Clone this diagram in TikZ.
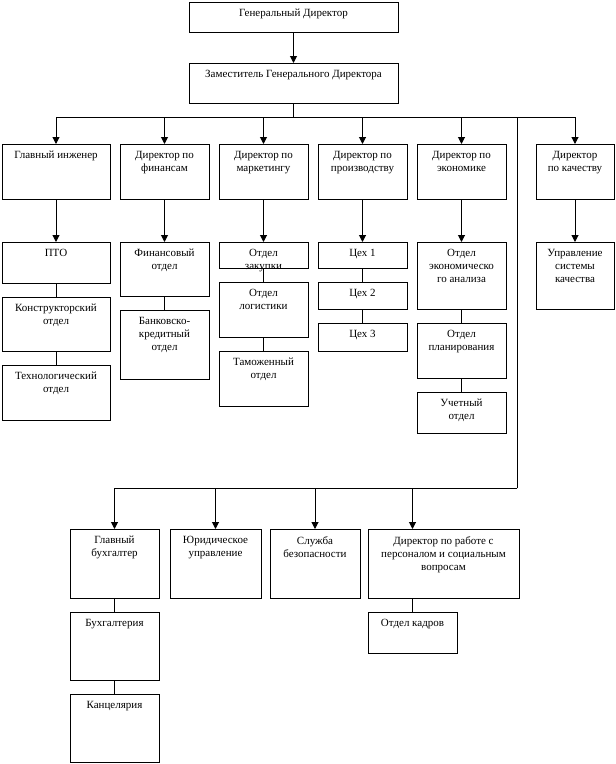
\documentclass[tikz,border=0pt]{standalone}
\usepackage{fontspec}
\setmainfont{Liberation Serif}
\usetikzlibrary{positioning, arrows.meta}

\begin{document}
\begin{tikzpicture}[
    x=1pt, y=-1pt,
    node distance=14pt,
    unit/.style 2 args={
        rectangle,
        draw,
        line width=1pt,
        inner sep=0pt,
        outer sep=0pt,
        minimum width=#1,
        minimum height=#2
    },
    txt/.style={
        anchor=north,
        align=center,
        inner sep=0pt,
        yshift=-7pt,
        font=\fontsize{11}{13}\selectfont
    },
    link/.style={
        line width=1pt
    },
    arrow/.style={
        -{Triangle[length=7pt, width=7pt]},
        line width=1pt
    }
]
\useasboundingbox (0,0) rectangle (616,764);

% ------------------------------------------------------------------
% TOP MANAGEMENT
% ------------------------------------------------------------------

\node[unit={209pt}{30pt}, anchor=north west,
      label={[txt]north:Генеральный Директор}] (gen) at (189,2) {};

\node[unit={209pt}{40pt}, below=31pt of gen,
      label={[txt]north:Заместитель Генерального Директора}] (dep) {};

% ------------------------------------------------------------------
% DIRECTORS
% ------------------------------------------------------------------

\node[unit={108pt}{55pt}, anchor=north west,
      label={[txt]north:Главный инженер}] (gi) at (2,144) {};

\node[unit={89pt}{55pt}, right=10pt of gi,
      label={[txt]north:Директор по\\финансам}] (fin) {};

\node[unit={89pt}{55pt}, right=10pt of fin,
      label={[txt]north:Директор по\\маркетингу}] (mkt) {};

\node[unit={89pt}{55pt}, right=10pt of mkt,
      label={[txt]north:Директор по\\производству}] (prod) {};

\node[unit={89pt}{55pt}, right=10pt of prod,
      label={[txt]north:Директор по\\экономике}] (econ) {};

\node[unit={78pt}{55pt}, right=30pt of econ,
      label={[txt]north:Директор\\по качеству}] (qual) {};

% ------------------------------------------------------------------
% DEPARTMENTS
% ------------------------------------------------------------------

\node[unit={108pt}{41pt}, below=43pt of gi,
      label={[txt]north:ПТО}] (pto) {};
\node[unit={108pt}{54pt}, below=of pto,
      label={[txt]north:Конструкторский\\отдел}] (konstr) {};
\node[unit={108pt}{55pt}, below=of konstr,
      label={[txt]north:Технологический\\отдел}] (tech) {};

\node[unit={89pt}{54pt}, below=43pt of fin,
      label={[txt]north:Финансовый\\отдел}] (finotd) {};
\node[unit={89pt}{69pt}, below=of finotd,
      label={[txt]north:Банковско-\\кредитный\\отдел}] (bank) {};

\node[unit={89pt}{26pt}, below=43pt of mkt,
      label={[txt]north:Отдел\\закупки}] (zak) {};
\node[unit={89pt}{55pt}, below=of zak,
      label={[txt]north:Отдел\\логистики}] (log) {};
\node[unit={89pt}{55pt}, below=of log,
      label={[txt]north:Таможенный\\отдел}] (tam) {};

\node[unit={89pt}{26pt}, below=43pt of prod,
      label={[txt]north:Цех 1}] (ceh1) {};
\node[unit={89pt}{27pt}, below=of ceh1,
      label={[txt]north:Цех 2}] (ceh2) {};
\node[unit={89pt}{28pt}, below=of ceh2,
      label={[txt]north:Цех 3}] (ceh3) {};

\node[unit={89pt}{67pt}, below=43pt of econ,
      label={[txt]north:Отдел\\экономическо\\го анализа}] (anal) {};
\node[unit={89pt}{55pt}, below=of anal,
      label={[txt]north:Отдел\\планирования}] (plan) {};
\node[unit={89pt}{41pt}, below=of plan,
      label={[txt]north:Учетный\\отдел}] (uch) {};

\node[unit={78pt}{67pt}, below=43pt of qual,
      label={[txt]north:Управление\\системы\\качества}] (upr) {};

% ------------------------------------------------------------------
% LOWER BRANCH
% ------------------------------------------------------------------

\node[unit={89pt}{69pt}, anchor=north west,
      label={[txt]north:Главный\\бухгалтер}] (gb) at (70,529) {};
\node[unit={91pt}{69pt}, right=11pt of gb,
      label={[txt]north:Юридическое\\управление}] (jur) {};
\node[unit={90pt}{69pt}, right=9pt of jur,
      label={[txt]north:Служба\\безопасности}] (sec) {};
\node[unit={151pt}{69pt}, right=8pt of sec,
      label={[txt]north:Директор по работе с\\персоналом и социальным\\вопросам}] (dpr) {};

\node[unit={89pt}{68pt}, below=of gb,
      label={[txt]north:Бухгалтерия}] (buh) {};
\node[unit={89pt}{68pt}, below=of buh,
      label={[txt]north:Канцелярия}] (kanc) {};

\node[unit={89pt}{41pt}, below right=14pt and 0pt of dpr.south west,
      label={[txt]north:Отдел кадров}] (ok) {};

% ------------------------------------------------------------------
% CONNECTIONS
% ------------------------------------------------------------------

\draw[arrow] (gen) -- (dep);

\coordinate[below=14pt of dep] (bus);
\draw[link] (dep) -- (bus);
\foreach \h in {gi, fin, mkt, prod, econ, qual}
    \draw[arrow] (bus) -| (\h);

\draw[arrow] (gi) -- (pto);
\draw[link] (pto) -- (konstr) -- (tech);

\draw[arrow] (fin) -- (finotd);
\draw[link] (finotd) -- (bank);

\draw[arrow] (mkt) -- (zak);
\draw[link] (zak) -- (log) -- (tam);

\draw[arrow] (prod) -- (ceh1);
\draw[link] (ceh1) -- (ceh2) -- (ceh3);

\draw[arrow] (econ) -- (anal);
\draw[link] (anal) -- (plan) -- (uch);

\draw[arrow] (qual) -- (upr);

\coordinate (turn) at (517,488);
\draw[link] (bus -| turn) -- (turn);
\foreach \b in {gb, jur, sec}
    \draw[arrow] (turn) -| (\b);
\draw[arrow] (turn) -| (ok |- dpr.north);
\draw[link] (dpr.south -| ok) -- (ok);

\draw[link] (gb) -- (buh) -- (kanc);

\end{tikzpicture}
\end{document}
